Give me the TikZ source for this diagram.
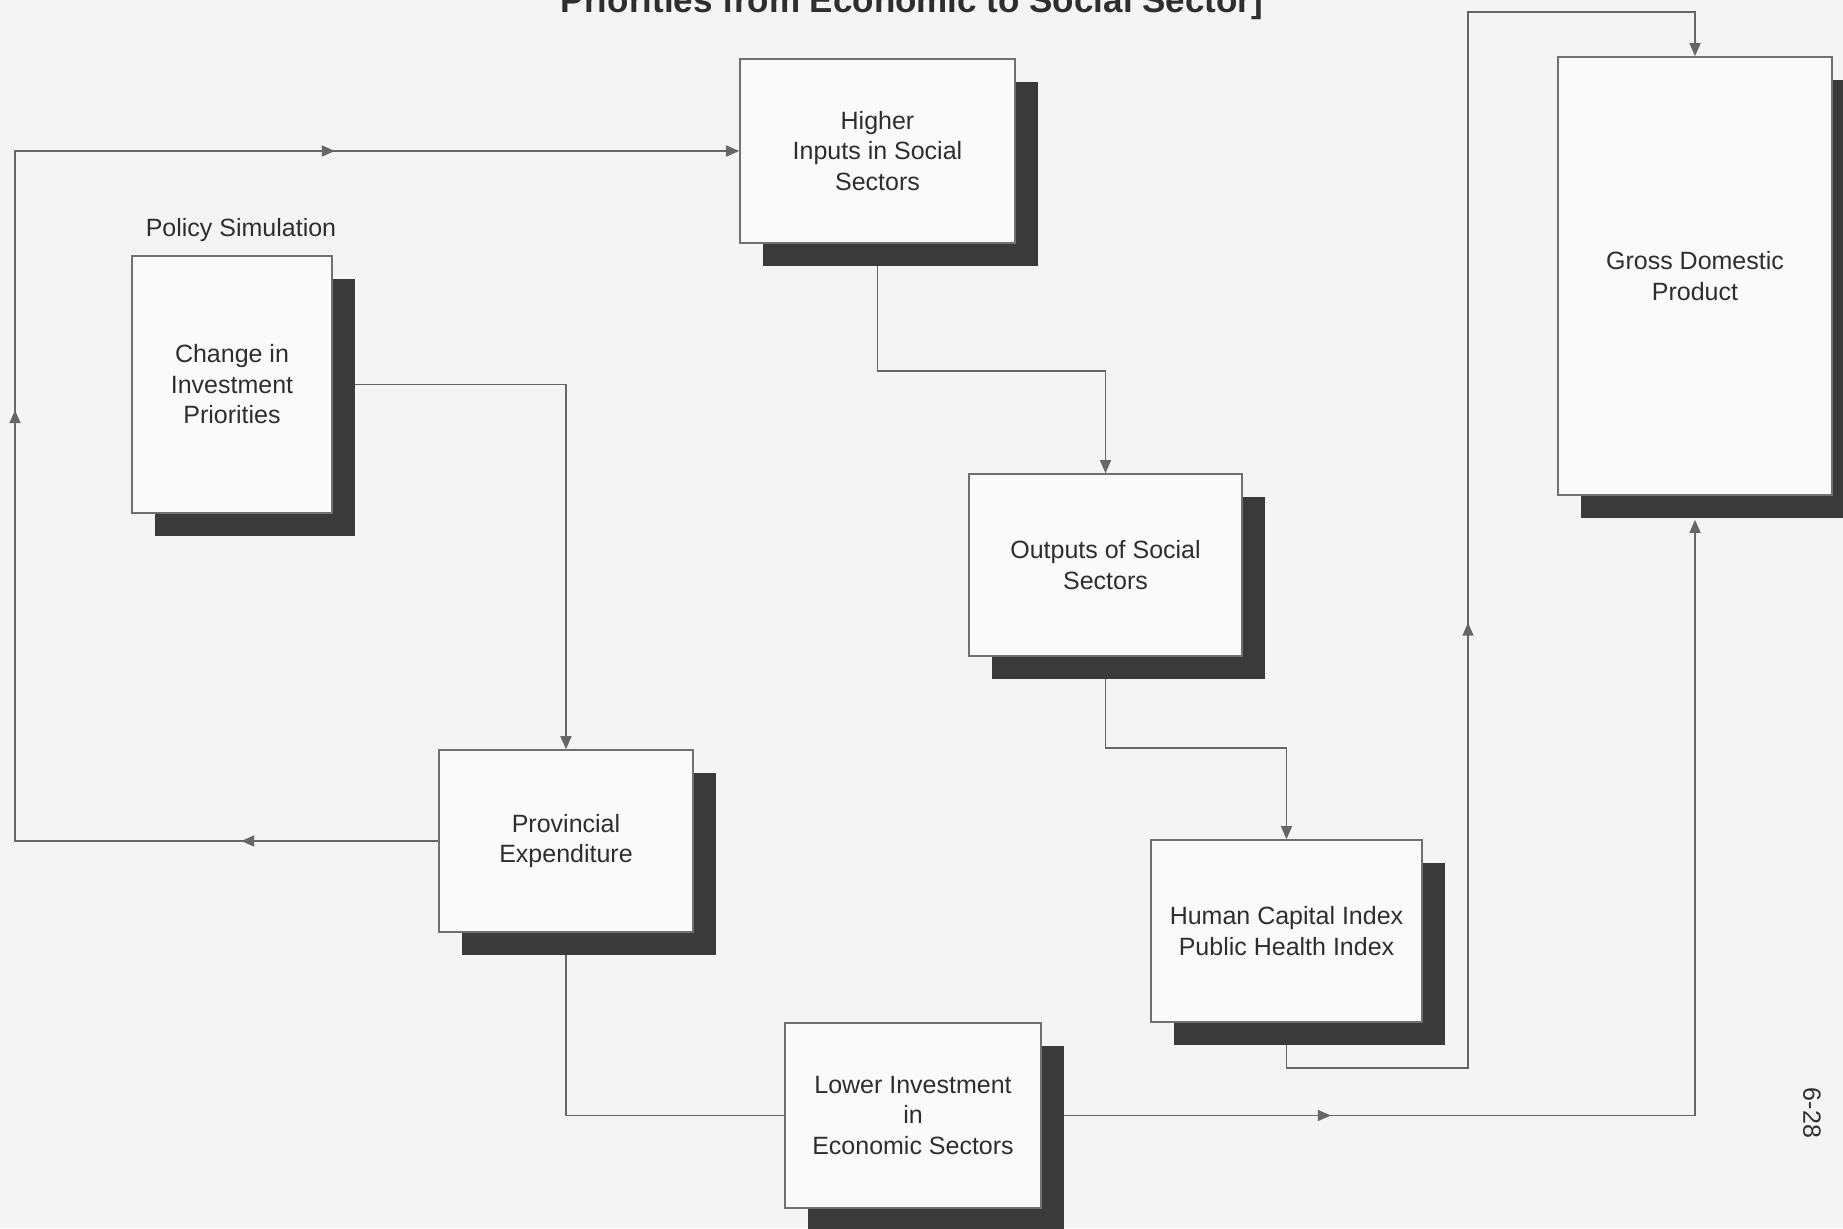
\documentclass[tikz,border=0pt]{standalone}
\usepackage{fontspec}
\setmainfont{Liberation Sans}
\usetikzlibrary{arrows.meta,shadows,decorations.markings,calc}
\pgfdeclarelayer{back}
\pgfdeclarelayer{lines}
\pgfsetlayers{back,lines,main}
\definecolor{bgc}{HTML}{F4F4F4}
\definecolor{boxfill}{HTML}{FAFAFA}
\definecolor{boxline}{HTML}{707070}
\definecolor{shadowc}{HTML}{3A3A3A}
\definecolor{linec}{HTML}{666666}
\definecolor{txt}{HTML}{2E2E2E}
\begin{document}
\begin{tikzpicture}[x=1pt,y=-1pt,
  >={Triangle[length=13pt,width=11pt]},
  box/.style={draw=boxline, line width=1.6pt, fill=boxfill, inner sep=0pt,
    align=center, text=txt, font=\fontsize{25}{30.5}\selectfont,
    drop shadow={shadow xshift=23pt, shadow yshift=-23pt, fill=shadowc, opacity=1}},
  conn/.style={draw, color=linec, line width=1.6pt},
  plain/.style={text=txt, font=\fontsize{25}{30}\selectfont}]
\begin{pgfonlayer}{back}
\fill[bgc] (0,0) rectangle (1843,1228);
\end{pgfonlayer}
\useasboundingbox (0,0) rectangle (1843,1228);

\node[anchor=base, text=txt, font=\fontsize{35}{40}\selectfont\bfseries] (title) at (912,13) {Priorities from Economic to Social Sector]};
\node[plain] (ps) at (241,230) {Policy Simulation};
\node[plain, rotate=-90] (pg) at (1812,1113) {6-28};

\node[box, minimum width=275pt, minimum height=184pt] (higher) at (877.5,151) {Higher\\Inputs in Social\\Sectors};
\node[box, minimum width=200pt, minimum height=257pt] (change) at (232,384.5) {Change in\\Investment\\Priorities};
\node[box, minimum width=274pt, minimum height=438pt] (gdp) at (1695,276) {Gross Domestic\\Product};
\node[box, minimum width=273pt, minimum height=182pt] (outputs) at (1105.5,565) {Outputs of Social\\Sectors};
\node[box, minimum width=254pt, minimum height=182pt] (prov) at (566,841) {Provincial\\Expenditure};
\node[box, minimum width=271pt, minimum height=182pt] (human) at (1286.5,931) {Human Capital Index\\Public Health Index};
\node[box, minimum width=256pt, minimum height=185pt] (lower) at (913,1115.5) {Lower Investment\\in\\Economic Sectors};

\coordinate (lc) at (15,500);
\coordinate (m1) at (1000,371);
\coordinate (m2) at (1200,748);
\coordinate (m3) at (1468,1068);
\coordinate (m4) at (1600,12);

\begin{pgfonlayer}{lines}
\draw[conn, ->, postaction={decorate}, decoration={markings,
    mark=at position 197pt with {\arrow{>}},
    mark=at position 854pt with {\arrow{>}},
    mark=at position 1433pt with {\arrow{>}}}]
  (prov.west) -| (lc) |- (higher.west);
\draw[conn, ->] (change.east) -| (prov.north);
\draw[conn, ->] (higher.south) |- (m1) -| (outputs.north);
\draw[conn, ->] (outputs.south) |- (m2) -| (human.north);
\draw[conn, ->, postaction={decorate}, decoration={markings,
    mark=at position 672pt with {\arrow{>}}}]
  (human.south) |- (m3) |- (m4) -| (gdp.north);
\draw[conn] (prov.south) |- (lower.west);
\draw[conn, ->, shorten >=24pt, postaction={decorate}, decoration={markings,
    mark=at position 289pt with {\arrow{>}}}]
  (lower.east) -| (gdp.south);
\end{pgfonlayer}
\end{tikzpicture}
\end{document}
